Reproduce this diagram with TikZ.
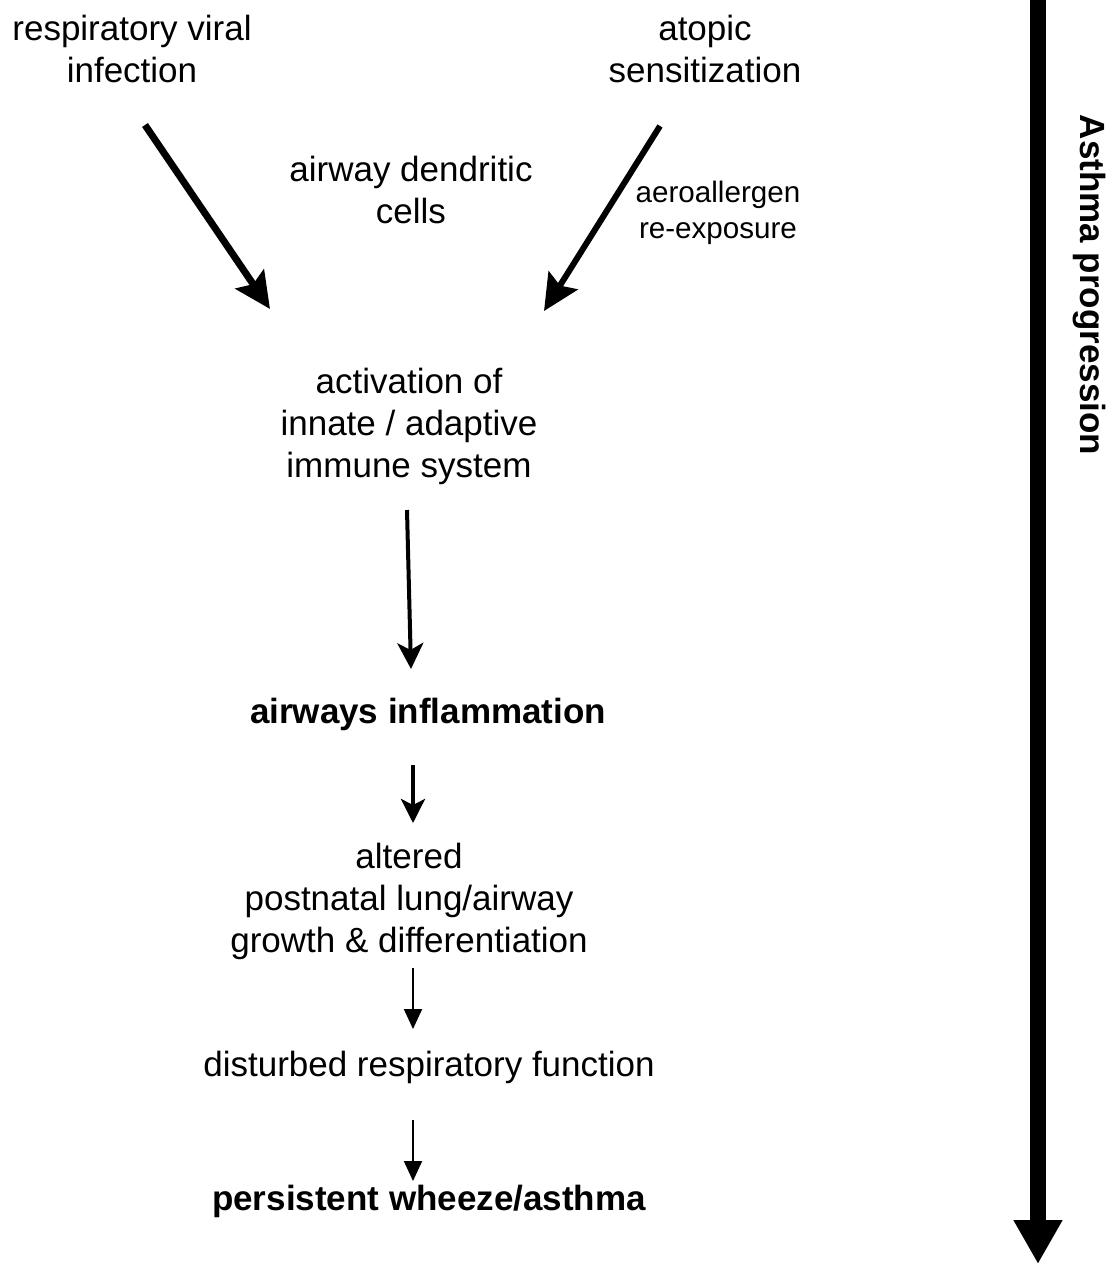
\documentclass[tikz,border=0pt]{standalone}
\usepackage{fontspec}
\setmainfont{Liberation Sans}
\usetikzlibrary{arrows.meta}
\begin{document}
\begin{tikzpicture}[x=1pt,y=-1pt,
  lbl/.style={align=center,inner sep=0pt,font=\fontsize{35}{42}\selectfont},
  lblb/.style={align=center,inner sep=0pt,font=\fontsize{35}{42}\selectfont\bfseries},
  small/.style={align=center,inner sep=0pt,font=\fontsize{29.6}{36}\selectfont},
  diag/.style={line width=7pt,-{Stealth[length=36pt,width=34pt,inset=6pt]}},
  mid/.style={line width=4pt,-{Stealth[length=26pt,width=26pt,inset=7pt]}},
  thin/.style={line width=2pt,-{Triangle[length=20pt,width=18pt]}},
  big/.style={line width=16pt,-{Triangle[length=44pt,width=46pt]}}]
\useasboundingbox (0,0) rectangle (1114,1264);

\node[lbl] (rvi) at (132,49) {respiratory viral\\infection};
\node[lbl] (atop) at (705,49) {atopic\\sensitization};
\node[lbl] (adc) at (411,190) {airway dendritic\\cells};
\node[small] (aero) at (718,213) {aeroallergen\\re-exposure};
\node[lbl] (act) at (409,426) {activation of\\innate / adaptive\\immune system};
\node[lblb] (infl) at (428,714) {airways inflammation};
\node[lbl] (alt) at (409,901) {altered\\postnatal lung/airway\\growth \& differentiation};
\node[lbl] (dist) at (429,1067) {disturbed respiratory function};
\node[lblb] (pers) at (429,1201) {persistent wheeze/asthma};
\node[lblb,rotate=-90] (prog) at (1089,285) {Asthma progression};

\coordinate (l1) at (145,125);
\coordinate (l2) at (270,309);
\coordinate (r1) at (660,126);
\coordinate (r2) at (544,311);
\draw[diag] (l1) -- (l2);
\draw[diag,line width=6pt] (r1) -- (r2);

\coordinate (m1) at (407,510);
\coordinate (m2) at (411,669);
\draw[mid] (m1) -- (m2);
\coordinate (n1) at (413,765);
\coordinate (n2) at (413,823);
\draw[mid,-{Stealth[length=24pt,width=24pt,inset=6pt]}] (n1) -- (n2);
\coordinate (o1) at (413,968);
\coordinate (o2) at (413,1029);
\draw[thin] (o1) -- (o2);
\coordinate (p1) at (413,1120);
\coordinate (p2) at (413,1181);
\draw[thin] (p1) -- (p2);

\coordinate (b1) at (1038,0);
\coordinate (b2) at (1038,1264);
\draw[big] (b1) -- (b2);
\end{tikzpicture}
\end{document}
